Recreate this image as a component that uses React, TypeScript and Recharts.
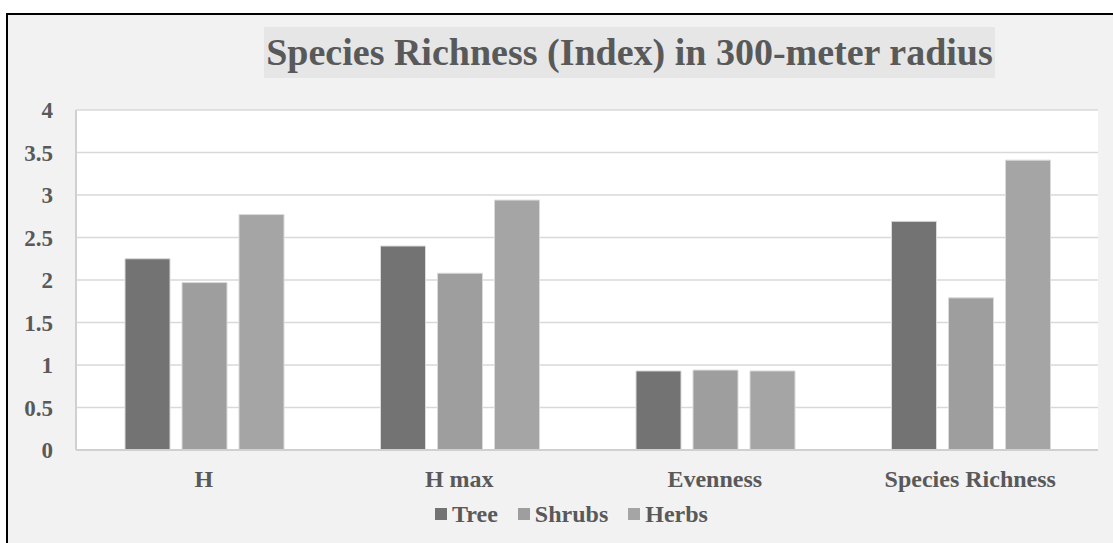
import { BarChart, Bar, XAxis, YAxis, CartesianGrid, Legend } from "recharts";

const categories = ["H", "H max", "Evenness", "Species Richness"];
const tree = [2.25, 2.4, 0.93, 2.69];
const shrubs = [1.97, 2.08, 0.94, 1.79];
const herbs = [2.77, 2.94, 0.93, 3.41];
const yTicks = [0, 0.5, 1, 1.5, 2, 2.5, 3, 3.5, 4];

const seriesNames = ["Tree", "Shrubs", "Herbs"];
const seriesColors = ["#737373", "#9e9e9e", "#a5a5a5"];

const data = categories.map((name, i) => ({
  name,
  Tree: tree[i],
  Shrubs: shrubs[i],
  Herbs: herbs[i],
}));

const FONT = '"Liberation Serif", "Times New Roman", serif';
const TEXT = "#595959";
const BORDER = "#d0d0d0";

function LegendContent() {
  return (
    <div style={{ display: "flex", justifyContent: "center", alignItems: "center", fontFamily: FONT }}>
      {seriesNames.map((s, i) => (
        <div key={s} style={{ display: "flex", alignItems: "center", marginRight: i < 2 ? 20 : 0 }}>
          <span style={{ width: 12, height: 12, background: seriesColors[i], marginRight: 5, display: "inline-block" }} />
          <span style={{ fontSize: 24, fontWeight: "bold", color: TEXT, lineHeight: "28px" }}>{s}</span>
        </div>
      ))}
    </div>
  );
}

export default function App() {
  return (
    <div style={{ position: "absolute", left: 0, top: 0, width: 1113, height: 543, background: "#fff", overflow: "hidden" }}>
      <div
        style={{
          position: "absolute",
          left: 6,
          top: 13,
          right: 0,
          bottom: 0,
          background: "#f2f2f2",
          borderLeft: "2px solid #000",
          borderTop: "2px solid #000",
        }}
      />
      <div
        style={{
          position: "absolute",
          left: 264,
          top: 27,
          width: 731,
          height: 51,
          background: "#e6e6e6",
          color: TEXT,
          fontFamily: FONT,
          fontWeight: "bold",
          fontSize: 38,
          lineHeight: "51px",
          textAlign: "center",
          whiteSpace: "nowrap",
        }}
      >
        Species Richness (Index) in 300-meter radius
      </div>
      <div style={{ position: "absolute", left: 0, top: 0 }}>
        <BarChart
          width={1113}
          height={543}
          data={data}
          margin={{ top: 110, right: 15, bottom: 43, left: 16 }}
          barCategoryGap={49}
          barGap={12}
        >
          <CartesianGrid vertical={false} stroke="#d9d9d9" strokeWidth={1.5} fill="#ffffff" />
          <XAxis
            dataKey="name"
            height={50}
            tickLine={false}
            tickSize={0}
            tickMargin={20}
            axisLine={{ stroke: BORDER, strokeWidth: 2 }}
            tick={{ fill: TEXT, fontSize: 24, fontWeight: "bold", fontFamily: FONT }}
            interval={0}
          />
          <XAxis xAxisId="top" dataKey="name" orientation="top" height={0} tick={false} tickLine={false} axisLine={{ stroke: BORDER, strokeWidth: 2 }} />
          <YAxis
            domain={[0, 4]}
            ticks={yTicks}
            width={60}
            tickLine={false}
            tickSize={0}
            tickMargin={23}
            axisLine={{ stroke: BORDER, strokeWidth: 2 }}
            tick={{ fill: TEXT, fontSize: 23, fontWeight: "bold", fontFamily: FONT }}
            interval={0}
          />
          <YAxis yAxisId="right" orientation="right" width={0} domain={[0, 4]} tick={false} tickLine={false} axisLine={{ stroke: BORDER, strokeWidth: 2 }} />
          <Legend
            verticalAlign="middle"
            align="center"
            wrapperStyle={{ top: 500, left: 0, width: 1143 }}
            content={() => <LegendContent />}
          />
          {seriesNames.map((s, i) => (
            <Bar key={s} dataKey={s} fill={seriesColors[i]} stroke="#dadada" strokeWidth={1} isAnimationActive={false} />
          ))}
        </BarChart>
      </div>
    </div>
  );
}
